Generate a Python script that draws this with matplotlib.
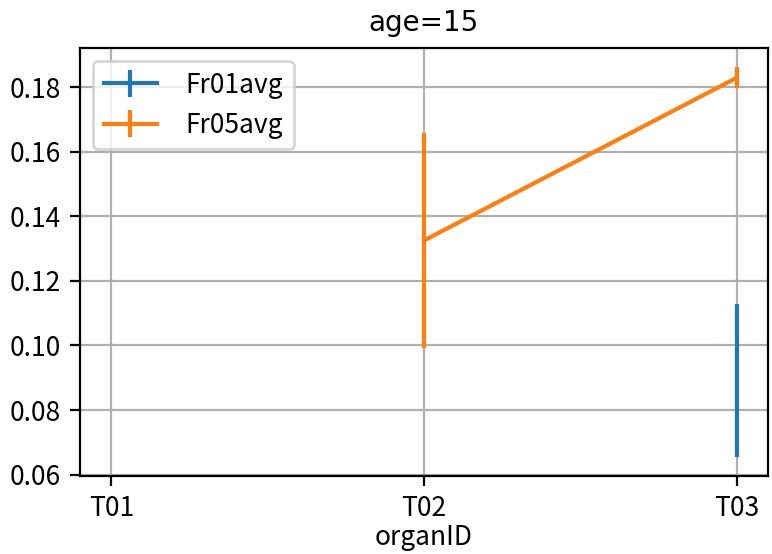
import numpy as np
import matplotlib
matplotlib.use("Agg")
import matplotlib.pyplot as plt

plt.rcParams['font.family'] = ['Noto Sans CJK SC', 'DejaVu Sans']

# organ groups on the x axis, mean and spread per fraction
organs = ["T01", "T02", "T03"]
fr01_avg = [np.nan, np.nan, 0.0892]
fr01_err = [np.nan, np.nan, 0.0236]
fr05_avg = [np.nan, 0.1325, 0.1829]
fr05_err = [np.nan, 0.0333, 0.0032]

fig = plt.figure(figsize=(7.72 / 2, 5.54 / 2), dpi=200)
ax = fig.add_axes([0.1036, 0.1408, 0.8912, 0.7726])

ax.errorbar(organs, fr01_avg, yerr=fr01_err, label="Fr01avg")
ax.errorbar(organs, fr05_avg, yerr=fr05_err, label="Fr05avg")

ax.set_xlim(-0.1, 2.1)
ax.set_yticks([0.06, 0.08, 0.10, 0.12, 0.14, 0.16, 0.18])
ax.set_yticklabels(["0.06", "0.08", "0.10", "0.12", "0.14", "0.16", "0.18"])
ax.tick_params(labelsize=9.5)
ax.grid(True)
ax.set_xlabel("organID", fontsize=9.5, labelpad=0.5)
ax.set_title("age=15", fontsize=10, family="DejaVu Sans")
ax.legend(loc="upper left", handletextpad=1.1, fontsize=9.5)

fig.savefig("out.png", dpi=200)
